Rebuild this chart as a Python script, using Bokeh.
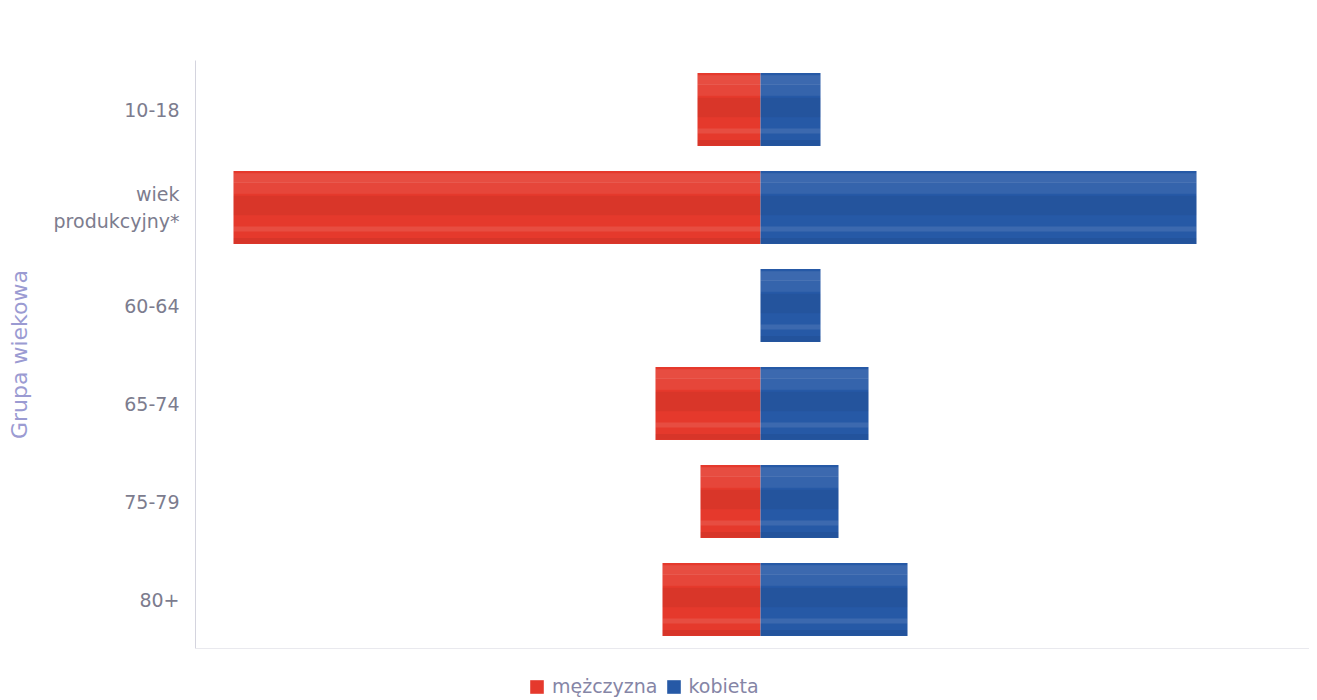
from bokeh.plotting import figure
from bokeh.models import FactorRange, Range1d, Legend, LegendItem, Span, ColumnDataSource
from bokeh.transform import dodge
from bokeh.layouts import column
from bokeh.embed import file_html
from bokeh.resources import INLINE

# ---- data ----
groups = ["10-18", "wiek\nprodukcyjny*", "60-64", "65-74", "75-79", "80+"]
men = [63, 527, 0, 105, 60, 98]        # mężczyzna (drawn to the left)
women = [60, 436, 60, 108, 78, 147]    # kobieta (drawn to the right)
series_names = ["mężczyzna", "kobieta"]

RED = "#e5392c"
BLUE = "#2659a6"
TEXT = "#7c7c8e"
BAR_H = 0.745

src = ColumnDataSource(dict(
    g=groups,
    men_left=[-v for v in men],
    zero=[0] * len(groups),
    women=women,
))

yr = FactorRange(*list(reversed(groups)), range_padding=0)
p = figure(
    width=1309, height=650,
    y_range=yr,
    x_range=Range1d(-565, 549),
    output_backend="svg", toolbar_location=None,
    min_border_left=195, min_border_top=60, min_border_bottom=2, min_border_right=0,
)
p.background_fill_color = "white"
p.border_fill_color = "white"
p.outline_line_color = None
p.grid.visible = False

p.hbar(y="g", left="men_left", right="zero", height=BAR_H, source=src,
       fill_color=RED, line_color=None)
p.hbar(y="g", left="zero", right="women", height=BAR_H, source=src,
       fill_color=BLUE, line_color=None)

# soft glossy shading (style only): light upper part, darker middle, thin light line low
shade = [(0.30, 0.10, "white", 0.10), (0.20, 0.12, "white", 0.07),
         (0.02, 0.20, "black", 0.05), (-0.22, 0.05, "white", 0.10),
         (-0.34, 0.06, "black", 0.06)]
for lo, hi in (("men_left", "zero"), ("zero", "women")):
    for off, h, col, a in shade:
        p.hbar(y=dodge("g", off, range=yr), left=lo, right=hi, height=h, source=src,
               fill_color=col, fill_alpha=a, line_color=None)

p.xaxis.visible = False
p.add_layout(Span(location=0, dimension="width", line_color="#d4d4de", line_width=1))

ya = p.yaxis[0]
ya.axis_line_color = "#d4d4de"
ya.major_tick_line_color = None
ya.minor_tick_line_color = None
ya.major_label_text_font = "DejaVu Sans"
ya.major_label_text_font_size = "19px"
ya.major_label_text_color = TEXT
ya.major_label_standoff = 10
ya.axis_label = "Grupa wiekowa"
ya.axis_label_text_font = "DejaVu Sans"
ya.axis_label_text_font_size = "22px"
ya.axis_label_text_font_style = "normal"
ya.axis_label_text_color = "#9b9bd2"
ya.axis_label_standoff = 19

# ---- legend strip below the chart ----
lg = figure(
    width=1309, height=50, x_range=Range1d(0, 1), y_range=Range1d(0, 1),
    output_backend="svg", toolbar_location=None,
    min_border_left=0, min_border_right=0, min_border_top=0, min_border_bottom=0,
)
lg.axis.visible = False
lg.grid.visible = False
lg.outline_line_color = None
hidden = ColumnDataSource(dict(y=[5], l=[5], r=[6]))
lm = lg.hbar(y="y", left="l", right="r", height=0.5, source=hidden, fill_color=RED, line_color=None)
lw = lg.hbar(y="y", left="l", right="r", height=0.5, source=hidden, fill_color=BLUE, line_color=None)

legend = Legend(
    items=[LegendItem(label=series_names[0], renderers=[lm]),
           LegendItem(label=series_names[1], renderers=[lw])],
    orientation="horizontal", location=(333, 3),
    label_text_font="DejaVu Sans", label_text_font_size="19px",
    label_text_color="#8585a6",
    glyph_width=17, glyph_height=17, label_standoff=7, spacing=7,
    padding=0, margin=0, border_line_color=None, background_fill_alpha=0,
)
lg.add_layout(legend, "center")

layout = column(p, lg, spacing=0)
open("out.html", "w").write(file_html(layout, INLINE))
